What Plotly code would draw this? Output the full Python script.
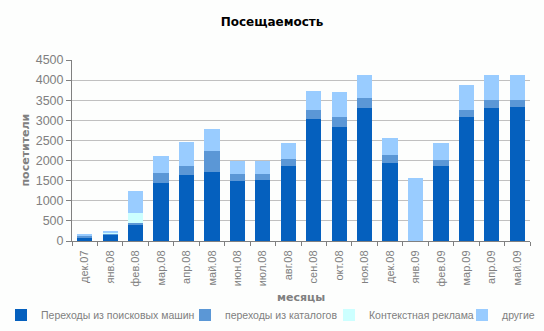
import plotly.graph_objects as go

months = ["дек.07", "янв.08", "фев.08", "мар.08", "апр.08", "май.08", "июн.08", "июл.08",
          "авг.08", "сен.08", "окт.08", "ноя.08", "дек.08", "янв.09", "фев.09", "мар.09",
          "апр.09", "май.09"]

search = [85, 170, 390, 1450, 1650, 1725, 1500, 1525, 1875, 3040, 2840, 3315, 1950, 0, 1875, 3090, 3315, 3340]
catalogs = [45, 25, 65, 250, 225, 520, 175, 150, 175, 225, 250, 250, 200, 0, 150, 175, 200, 175]
context = [0, 15, 250, 0, 0, 0, 0, 0, 0, 0, 0, 0, 0, 0, 0, 0, 0, 0]
others = [30, 25, 545, 420, 595, 550, 325, 305, 395, 475, 620, 570, 420, 1575, 420, 625, 620, 600]

series_names = ["Переходы из поисковых машин", "переходы из каталогов", "Контекстная реклама", "другие"]
series_values = [search, catalogs, context, others]
series_colors = ["#0560BE", "#5B97D6", "#CCFFFF", "#99CCFF"]

# each series gets its own one-entry legend so the entries can sit in a single row
legend_ids = ["legend", "legend2", "legend3", "legend4"]
legend_left_px = [1, 185, 329, 462]

font = "Liberation Sans"
gray = "#808080"
W, H = 544, 331
ML, MR, MT, MB = 72, 14, 60, 90
PW, PH = W - ML - MR, H - MT - MB


def paper_x(px):
    return (px - ML) / PW


def paper_y(py):
    return (H - MB - py) / PH


fig = go.Figure()
for name, vals, color, lid in zip(series_names, series_values, series_colors, legend_ids):
    fig.add_trace(go.Bar(x=months, y=vals, name=name, legend=lid,
                         marker=dict(color=color, line=dict(width=0))))

legend_style = dict(orientation="h", xref="container", yref="container",
                    xanchor="left", y=1 - 315 / H, yanchor="middle",
                    font=dict(family=font, size=10.5, color=gray), itemwidth=30,
                    bgcolor="rgba(0,0,0,0)", borderwidth=0)
legends = {lid: dict(legend_style, x=left / W) for lid, left in zip(legend_ids, legend_left_px)}

fig.update_layout(
    barmode="stack",
    bargap=0.4,
    width=W, height=H,
    margin=dict(l=ML, r=MR, t=MT, b=MB, autoexpand=False),
    paper_bgcolor="#FDFEFD",
    plot_bgcolor="#FDFEFD",
    font=dict(family=font, size=11, color=gray),
    title=dict(text="<b>Посещаемость</b>", x=0.5, xanchor="center", y=1 - 22 / H, yanchor="middle",
               font=dict(family="DejaVu Sans", size=12, color="#000000")),
    showlegend=True,
    **legends,
)

# axis titles
fig.add_annotation(text="<b>месяцы</b>", xref="paper", yref="paper", x=0.5, y=paper_y(297),
                   xanchor="center", yanchor="middle", showarrow=False,
                   font=dict(family="DejaVu Sans", size=11, color=gray))
fig.add_annotation(text="<b>посетители</b>", xref="paper", yref="paper", x=paper_x(25), y=0.5,
                   xanchor="center", yanchor="middle", textangle=-90, showarrow=False,
                   font=dict(family="DejaVu Sans", size=11, color=gray))

fig.update_xaxes(
    tickangle=-90, showline=True, linecolor=gray, linewidth=1,
    ticks="outside", ticklen=4, tickcolor=gray, tickson="boundaries",
    ticklabelstandoff=4,
    tickfont=dict(family=font, size=11, color=gray),
    showgrid=False,
)
fig.update_yaxes(
    range=[0, 4500], dtick=500, showline=True, linecolor=gray, linewidth=1,
    ticks="outside", ticklen=5, tickcolor=gray,
    gridcolor="#C0C0C0", gridwidth=1, zeroline=False,
    tickfont=dict(family=font, size=12.5, color=gray),
)

fig.write_html("out.html")
